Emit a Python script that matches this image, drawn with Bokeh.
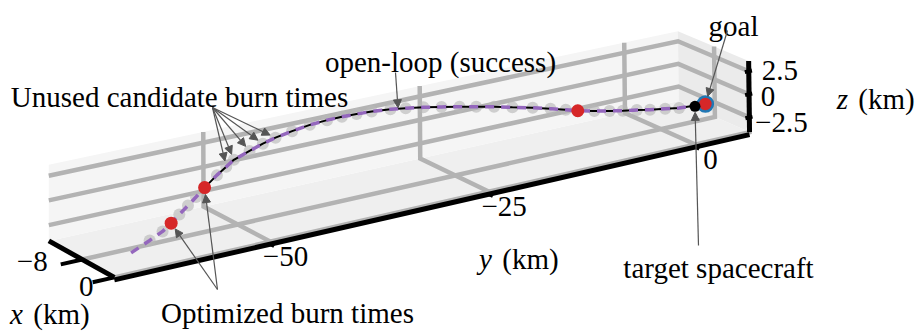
import numpy as np
from bokeh.plotting import figure
from bokeh.models import ColumnDataSource, Arrow, NormalHead, Range1d
from bokeh.core.properties import value
from bokeh.embed import file_html
from bokeh.resources import INLINE

# ---------------- data ----------------
X_LIM = (-16.5, 0.0)     # radial x (km)
Y_LIM = (-67.0, 6.8)     # along-track y (km)
Z_LIM = (-4.1, 3.6)      # cross-track z (km)
x_ticks = [-8, 0]
y_ticks = [-50, -25, 0]
z_ticks = [-2.5, 0, 2.5]
x_tick_labels = ["\u22128", "0"]
y_tick_labels = ["\u221250", "\u221225", "0"]
z_tick_labels = ["\u22122.5", "0", "2.5"]

# trajectory samples (km); last sample is the goal
traj_x = [0.0, -0.7, -1.4, -2.0, -2.7, -3.5, -4.2, -5.0, -6.2, -7.0, -8.0, -9.2, -10.3, -11.1,
          -12.0, -13.0, -13.7, -14.3, -14.7, -15.0, -15.0, -15.0, -14.8, -14.5, -14.0, -13.4,
          -12.7, -11.7, -10.6, -9.5, -8.4, -7.5, -6.3, -5.2, -4.2, -3.2, -2.2, -1.3, -0.5, 0.0]
traj_y = [-65.2, -62.9, -61.2, -60.0, -58.8, -57.5, -56.3, -55.0, -53.1, -51.7, -50.4, -48.1,
          -46.1, -44.3, -42.0, -39.5, -37.2, -35.2, -33.3, -31.4, -29.2, -27.4, -25.4, -23.4,
          -21.5, -19.8, -18.0, -16.3, -14.4, -12.8, -11.5, -10.5, -9.1, -7.8, -6.7, -5.5, -4.4,
          -3.0, -1.7, 1.3]
traj_z = [-2.05, -1.45, -1.05, -0.6, -0.12, 0.34, 0.8, 1.32, 1.95, 2.35, 2.6, 2.8, 2.92, 3.02,
          3.06, 3.02, 2.92, 2.76, 2.6, 2.44, 2.24, 2.01, 1.76, 1.48, 1.25, 1.03, 0.82, 0.64, 0.45,
          0.28, 0.13, 0.02, -0.04, -0.05, -0.03, 0.01, 0.04, 0.05, 0.04, 0.0]
candidate_idx = list(range(1, 39))
burn_idx = [3, 7, 31]
openloop_start = 7
target_pos = (0.0, 0.0, 0.0)
goal_pos = (0.0, 1.3, 0.0)

# ---------------- camera (perspective view of the 3-D box) ----------------
XL, XH = X_LIM
YL, YH = Y_LIM
ZL, ZH = Z_LIM
ANCHORS = [
    ((XH, YL, ZL), (117, 278)), ((XL, YL, ZL), (47, 242)), ((XH, YH, ZL), (749, 133)),
    ((XH, YH, ZH), (750, 59)), ((XH, -50, ZL), (267, 240)), ((XH, -25, ZL), (488, 192)),
    ((XH, 0, ZL), (693, 145)), ((XL, -50, ZL), (202, 204)), ((XL, -25, ZL), (422, 155)),
    ((XL, 0, ZL), (625, 112)), ((XL, -50, ZH), (202, 133)), ((XL, -25, ZH), (421, 88)),
    ((XL, 0, ZH), (625, 45)), ((XH, YH, 2.5), (750, 68)), ((XH, YH, -2.5), (750, 118)),
    ((XL, YL, 2.5), (48, 173)), ((XL, YL, -2.5), (48, 224)), ((-8, YL, ZL), (83, 260)),
    ((-8, YH, ZH), (708, 45)),
]
LO = np.array([XL, YL, ZL])
SPAN = np.array([XH - XL, YH - YL, ZH - ZL])


def fit_camera(anchors):
    rows = []
    for w, px in anchors:
        Xh = np.append((np.array(w, float) - LO) / SPAN, 1.0)
        u = (px[0] - 450.0) / 450.0
        v = (px[1] - 165.0) / 450.0
        rows.append(np.concatenate([Xh, np.zeros(4), -u * Xh]))
        rows.append(np.concatenate([np.zeros(4), Xh, -v * Xh]))
    _, _, vt = np.linalg.svd(np.array(rows))
    return vt[-1].reshape(3, 4)


CAM = fit_camera(ANCHORS)


def proj(x, y, z):
    pts = (np.stack([np.atleast_1d(np.asarray(x, float)),
                     np.atleast_1d(np.asarray(y, float)),
                     np.atleast_1d(np.asarray(z, float))], -1) - LO) / SPAN
    h = np.concatenate([pts, np.ones((len(pts), 1))], 1) @ CAM.T
    return h[:, 0] / h[:, 2] * 450 + 450, h[:, 1] / h[:, 2] * 450 + 165


def proj_pts(pts):
    a = np.array(pts, float)
    return proj(a[:, 0], a[:, 1], a[:, 2])


# ---------------- figure ----------------
p = figure(width=917, height=331, x_range=Range1d(0, 917), y_range=Range1d(331, 0),
           output_backend="svg", toolbar_location=None, min_border=0)
p.axis.visible = False
p.grid.visible = False
p.outline_line_color = None
p.background_fill_color = "white"

# panes
panes = [
    ([(XL, YL, ZL), (XH, YL, ZL), (XH, YH, ZL), (XL, YH, ZL)], "#efefef"),
    ([(XL, YL, ZL), (XL, YH, ZL), (XL, YH, ZH), (XL, YL, ZH)], "#f5f5f5"),
    ([(XL, YH, ZL), (XH, YH, ZL), (XH, YH, ZH), (XL, YH, ZH)], "#ebebeb"),
]
for corners, col in panes:
    u, v = proj_pts(corners)
    p.patch(list(u), list(v), fill_color=col, line_color=None)

# grid lines (matplotlib style: across two panes)
GRID = "#b3b3b3"
grid_xs, grid_ys = [], []
for xt in x_ticks:
    u, v = proj_pts([(xt, YH, ZH), (xt, YH, ZL), (xt, YL, ZL)])
    grid_xs.append(list(u)); grid_ys.append(list(v))
for yt in y_ticks:
    u, v = proj_pts([(XL, yt, ZH), (XL, yt, ZL), (XH, yt, ZL)])
    grid_xs.append(list(u)); grid_ys.append(list(v))
for zt in z_ticks:
    u, v = proj_pts([(XH, YH, zt), (XL, YH, zt), (XL, YL, zt)])
    grid_xs.append(list(u)); grid_ys.append(list(v))
p.multi_line(grid_xs, grid_ys, line_color=GRID, line_width=4.5, line_join="miter")

# black axis lines
AX = "black"
u, v = proj_pts([(XL, YL, ZL), (XH, YL, ZL)])
p.line(u, v, line_color=AX, line_width=5)
u, v = proj_pts([(XH, YL, ZL), (XH, YH, ZL)])
p.line(u, v + 2.5, line_color=AX, line_width=5)
u, v = proj_pts([(XH, YH, ZL), (XH, YH, ZH)])
p.line(u, v, line_color=AX, line_width=5)
# tick marks
tk_xs, tk_ys = [], []
for xt in x_ticks:
    u, v = proj_pts([(xt, YL, ZL), (xt, YL - 2.3, ZL)])
    tk_xs.append(list(u)); tk_ys.append(list(v))
for zt in z_ticks:
    u, v = proj_pts([(XH, YH + 0.4, zt), (XH, YH - 0.5, zt)])
    tk_xs.append(list(u)); tk_ys.append(list(v))
for yt in y_ticks:
    u, v = proj_pts([(XH, yt, ZL), (XH + 0.9, yt, ZL)])
    tk_xs.append(list(u)); tk_ys.append(list(v + 2.5))
p.multi_line(tk_xs, tk_ys, line_color=AX, line_width=4)

# trajectory
tu, tv = proj(traj_x, traj_y, traj_z)
cu, cv = tu[candidate_idx], tv[candidate_idx]
p.scatter(cu, cv, size=12, fill_color="#b8b8b8", fill_alpha=0.65, line_color=None)
p.line(tu[openloop_start:], tv[openloop_start:], line_color="black", line_width=2)
p.line(tu, tv, line_color="#9467bd", line_width=3.5, line_dash="9 7")
bu, bv = tu[burn_idx], tv[burn_idx]
p.scatter(bu, bv, size=13, fill_color="#d62728", line_color=None)
gu, gv = proj(*goal_pos)
p.scatter(gu, gv, size=15, fill_color="#d62728", line_color="#1f77b4", line_width=2.5)
su, sv = proj(*target_pos)
p.scatter(su, sv, size=11, fill_color="black", line_color=None)

# annotations with arrows
def arrow_to(x0, y0, x1, y1, shrink):
    d = np.hypot(x1 - x0, y1 - y0)
    return x0, y0, x1 - (x1 - x0) / d * shrink, y1 - (y1 - y0) / d * shrink

arr = []
for i in [9, 10, 11, 12, 13]:
    arr.append(arrow_to(212, 107, tu[i], tv[i], 6))
for i in burn_idx[:2]:
    arr.append(arrow_to(217, 289, tu[i], tv[i], 7))
arr.append(arrow_to(395, 72, (tu[20] + tu[21]) / 2, (tv[20] + tv[21]) / 2, 1))
arr.append(arrow_to(727, 30, gu[0], gv[0], 8))
arr.append(arrow_to(698, 245, su[0], sv[0], 6))
arr = np.array(arr)
asrc = ColumnDataSource(dict(x0=arr[:, 0], y0=arr[:, 1], x1=arr[:, 2], y1=arr[:, 3]))
ACOL = "#555555"
p.add_layout(Arrow(x_start="x0", y_start="y0", x_end="x1", y_end="y1", source=asrc,
                   line_color=ACOL, line_width=1.2,
                   end=NormalHead(size=8, fill_color=ACOL, line_color=ACOL)))

FONT = value("Liberation Serif")
FS = "29px"

def put(xs, ys, texts, align="center", baseline="alphabetic", style="normal"):
    p.text(x=list(xs), y=list(ys), text=list(texts), text_font=FONT, text_font_size=FS,
           text_align=align, text_baseline=baseline, text_color="black",
           text_font_style=style)

# annotation texts
put([179, 440, 287, 718, 733], [96, 61, 312, 267, 25],
    ["Unused candidate burn times", "open-loop (success)", "Optimized burn times",
     "target spacecraft", "goal"])

# tick labels
xu, xv = proj(x_ticks, [YL] * len(x_ticks), [ZL] * len(x_ticks))
put(xu + np.array([-50, -28]), xv + np.array([2, 9]), x_tick_labels, baseline="middle")
yu, yv = proj([XH] * len(y_ticks), y_ticks, [ZL] * len(y_ticks))
put(yu + 15, yv + 15, y_tick_labels, baseline="middle")
zu, zv = proj([XH] * len(z_ticks), [YH] * len(z_ticks), z_ticks)
put(zu + np.array([32, 19, 31]), zv + np.array([5, 2, -1]), z_tick_labels, baseline="middle")

# axis labels (italic variable + unit)
put([16, 485, 842], [313, 258, 98], ["x", "y", "z"], style="italic")
put([61, 530, 886], [313, 258, 98], ["(km)", "(km)", "(km)"])

open("out.html", "w").write(file_html(p, INLINE))
